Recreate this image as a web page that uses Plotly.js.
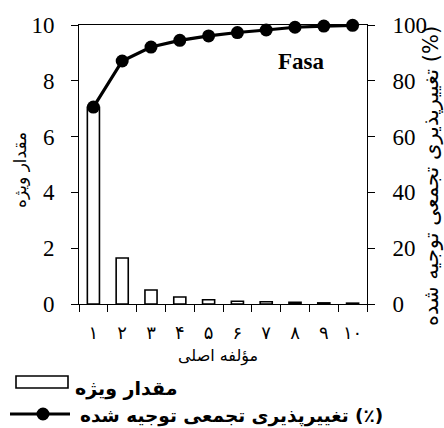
<!DOCTYPE html>
<html>
<head>
<meta charset="utf-8">
<script src="https://cdn.plot.ly/plotly-3.0.1.min.js"></script>
<style>html,body{margin:0;padding:0;background:#fff;}</style>
</head>
<body>
<div id="chart" style="width:444px;height:428px;"></div>
<script>
// Data
var components = ['۱','۲','۳','۴','۵','۶','۷','۸','۹','۱۰'];
var eigenvalues = [7.05, 1.65, 0.50, 0.25, 0.15, 0.10, 0.08, 0.06, 0.04, 0.03];
var cumulative = [70.6, 87.1, 92.1, 94.5, 96.1, 97.3, 98.2, 99.2, 99.6, 99.9];
var seriesNames = ['مقدار ویژه', '(٪) تغییرپذیری تجمعی توجیه شده'];
var xTitle = 'مؤلفه اصلی';
var yTitle = 'مقدار ویژه';
var y2Title = '(%) تغییرپذیری تجمعی توجیه شده';
var siteLabel = 'Fasa';

var W = 444, H = 428, ML = 79, MR = 77, MT = 25, MB = 124;
var PW = W - ML - MR, PH = H - MT - MB;
function px(x) { return (x - ML) / PW; }
function py(y) { return (H - MB - y) / PH; }
function rtl(s) { return '\u202B' + s + '\u202C'; }

var persian = '"DejaVu Sans", sans-serif';
var serif = '"Liberation Serif", "Times New Roman", serif';

var traces = [
  {
    type: 'bar', x: components, y: eigenvalues, yaxis: 'y', width: 0.42,
    marker: {color: '#ffffff', line: {color: '#000000', width: 1.6}},
    showlegend: false, hoverinfo: 'none'
  },
  {
    type: 'scatter', mode: 'lines+markers', x: components, y: cumulative, yaxis: 'y2',
    line: {color: '#000000', width: 3.2},
    marker: {color: '#000000', size: 13},
    cliponaxis: false, showlegend: false, hoverinfo: 'none'
  }
];

var axisCommon = {
  showline: true, linecolor: '#000', linewidth: 1,
  ticks: 'outside', ticklen: 7, tickcolor: '#000', tickwidth: 1,
  showgrid: false, zeroline: false
};

var layout = {
  width: W, height: H,
  margin: {l: ML, r: MR, t: MT, b: MB, pad: 0},
  paper_bgcolor: '#fff', plot_bgcolor: '#fff',
  showlegend: false,
  xaxis: Object.assign({}, axisCommon, {
    type: 'category', tickson: 'boundaries', mirror: true,
    range: [-0.5, 9.5],
    tickfont: {family: persian, size: 18, color: '#000'},
    ticklabelstandoff: 12
  }),
  yaxis: Object.assign({}, axisCommon, {
    range: [0, 10], dtick: 2, tick0: 0,
    tickfont: {family: serif, size: 23, color: '#000'},
    ticklabelstandoff: 12
  }),
  yaxis2: Object.assign({}, axisCommon, {
    overlaying: 'y', side: 'right',
    range: [0, 100], dtick: 20, tick0: 0,
    tickfont: {family: serif, size: 23, color: '#000'},
    ticklabelstandoff: 13
  }),
  annotations: [
    {text: '<b>' + siteLabel + '</b>', xref: 'paper', yref: 'paper', x: px(301), y: py(61),
     xanchor: 'center', yanchor: 'middle', showarrow: false,
     font: {family: serif, size: 23, color: '#000'}},
    {text: rtl(xTitle), xref: 'paper', yref: 'paper', x: px(218), y: py(356),
     xanchor: 'center', yanchor: 'middle', showarrow: false,
     font: {family: persian, size: 16, color: '#000'}},
    {text: rtl(yTitle), xref: 'paper', yref: 'paper', x: px(20), y: py(170), textangle: -90,
     xanchor: 'center', yanchor: 'middle', showarrow: false,
     font: {family: persian, size: 17, color: '#000'}},
    {text: rtl(y2Title), xref: 'paper', yref: 'paper', x: px(431), y: py(176), textangle: -90,
     xanchor: 'center', yanchor: 'middle', showarrow: false,
     font: {family: persian, size: 21, color: '#000'}},
    {text: '<b>' + rtl(seriesNames[0]) + '</b>', xref: 'paper', yref: 'paper', x: px(73), y: py(389),
     xanchor: 'left', yanchor: 'middle', showarrow: false,
     font: {family: persian, size: 19, color: '#000'}},
    {text: '<b>' + rtl(seriesNames[1]) + '</b>', xref: 'paper', yref: 'paper', x: px(78), y: py(416),
     xanchor: 'left', yanchor: 'middle', showarrow: false,
     font: {family: persian, size: 18.5, color: '#000'}}
  ],
  shapes: [
    {type: 'rect', xref: 'paper', yref: 'paper', x0: px(16), x1: px(68), y0: py(376), y1: py(388),
     line: {color: '#000', width: 1.6}, fillcolor: '#fff'},
    {type: 'line', xref: 'paper', yref: 'paper', x0: px(10), x1: px(70), y0: py(414), y1: py(414),
     line: {color: '#000', width: 3.2}},
    {type: 'circle', xref: 'paper', yref: 'paper', x0: px(43 - 6.5), x1: px(43 + 6.5), y0: py(414 + 6.5), y1: py(414 - 6.5),
     line: {color: '#000', width: 0}, fillcolor: '#000'}
  ]
};

Plotly.newPlot('chart', traces, layout, {displayModeBar: false, staticPlot: true});
</script>
</body>
</html>
